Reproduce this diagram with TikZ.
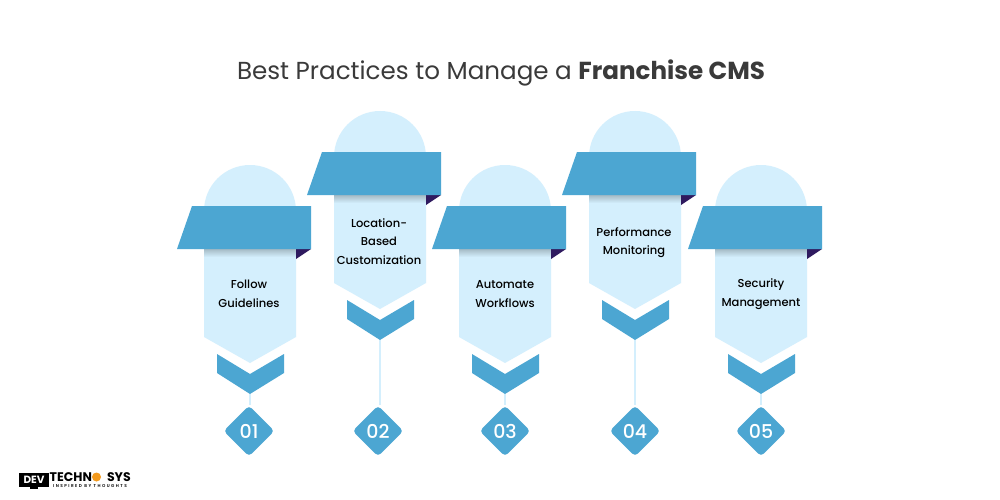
\documentclass[tikz,border=0pt]{standalone}
\usepackage{fontspec}
\setmainfont{Poppins}
\newfontfamily\cardfont{Poppins Medium}
\newfontfamily\tagfont[LetterSpace=35]{Poppins SemiBold}
\usepackage{tikz}
\usetikzlibrary{positioning,calc,shapes.geometric}

\definecolor{cardfill}{HTML}{D4EFFD}
\definecolor{bandblue}{HTML}{4CA6D2}
\definecolor{foldpurple}{HTML}{2F1A5F}
\definecolor{titlegray}{HTML}{3A3A3A}
\definecolor{gearorange}{HTML}{F39A1E}

\tikzset{
  cardlabel/.style={font=\cardfont\fontsize{11.5}{18.5}\selectfont,align=center,text=black,text width=92pt,inner sep=0pt},
  numbadge/.style={diamond,fill=bandblue,rounded corners=4pt,minimum width=51pt,minimum height=51pt,inner sep=0pt,text=white,font=\cardfont\fontsize{19}{20}\selectfont},
  stemline/.style={draw=cardfill,line width=1.6pt},
}

\begin{document}
\begin{tikzpicture}[x=1pt,y=-1pt]

  \useasboundingbox (0,0) rectangle (1000,500);
  \fill[white] (0,0) rectangle (1000,500);

  % title
  \node[font=\fontsize{24.6}{28}\selectfont,text=titlegray,inner sep=0pt] (title) at (501,72.5) {Best Practices to Manage a \textbf{Franchise CMS}};

  % the five cards
  \foreach \i/\cx/\bx/\dy/\tx/\ty/\lbl in {
    1/250/249/0/249/294/{Follow\\Guidelines},
    2/380/378/-54/379/241.5/{Location-\\Based\\Customization},
    3/505/505/0/505/294/{Automate\\Workflows},
    4/635/635/-54/634/242.5/{Performance\\Monitoring},
    5/761/761/0/761/294/{Security\\Management}} {

    % body with dome and pointed end
    \fill[cardfill] (\cx-46,337+\dy) -- (\cx-46,211+\dy) arc[start angle=180,end angle=360,radius=46] -- (\cx+46,337+\dy) -- (\cx,363+\dy) -- cycle;

    % soft shadow under the band
    \shade[top color=black!22!cardfill,bottom color=cardfill] (\cx-46,249+\dy) rectangle (\cx+46,257+\dy);

    % band and fold
    \fill[foldpurple] (\cx+46,249+\dy) -- (\cx+61,249+\dy) -- (\cx+46,259+\dy) -- cycle;
    \fill[bandblue] (\cx-58,206+\dy) -- (\cx+61,206+\dy) -- (\cx+61,249+\dy) -- (\cx-73,249+\dy) -- cycle;

    % chevron
    \fill[bandblue] (\cx-33,354+\dy) -- (\cx,374+\dy) -- (\cx+34,354+\dy) -- (\cx+34,373+\dy) -- (\cx,394+\dy) -- (\cx-33,373+\dy) -- cycle;
    \coordinate (tip\i) at (\cx,394+\dy);

    \node[cardlabel] (label\i) at (\tx,\ty) {\lbl};
    \node[numbadge] (badge\i) at (\bx,431) {0\i};
    \draw[stemline] (tip\i) -- (tip\i |- badge\i.north);
  }

  % logo
  \fill[black] (19,473) rectangle (49,487);
  \fill[black] (30,487) rectangle (38,489);
  \node[font=\fontsize{10.5}{11}\selectfont\bfseries,text=white,inner sep=0pt] (logodev) at (34,480) {DEV};
  \node[font=\fontsize{12.5}{13}\selectfont\bfseries,text=black,inner sep=0pt,anchor=west] (logotech) at (49.5,477) {TECHN};
  \node[circle,fill=gearorange,minimum size=9pt,inner sep=0pt] (logogear) at (96.5,477) {};
  \node[font=\fontsize{12.5}{13}\selectfont\bfseries,text=black,inner sep=0pt,anchor=east] (logosys) at (131,477) {SYS};
  \node[font=\tagfont\fontsize{4.2}{5}\selectfont,text=black,inner sep=0pt] (logotag) at (90,486) {INSPIRED BY THOUGHTS};

\end{tikzpicture}
\end{document}
